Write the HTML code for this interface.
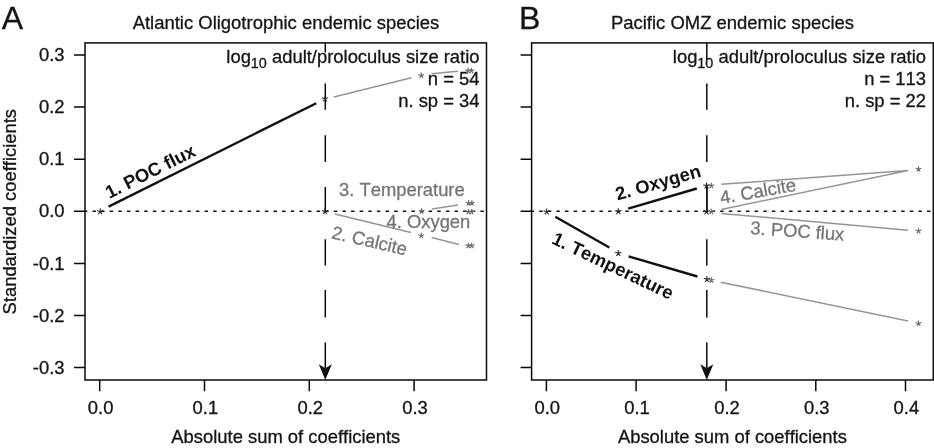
<!DOCTYPE html>
<html>
<head>
<meta charset="utf-8">
<title>Standardized coefficients</title>
<style>
html,body{margin:0;padding:0;background:#fff;}
body{width:934px;height:448px;overflow:hidden;}
svg{display:block;will-change:transform;}
text{font-family:"Liberation Sans",sans-serif;font-kerning:none;}
.t{font-size:18.4px;fill:#141414;stroke:#141414;stroke-width:0.3;}
.g{font-size:18.4px;fill:#757575;stroke:#757575;stroke-width:0.3;}
.b{font-size:18.4px;font-weight:bold;fill:#111;}
.s{text-anchor:middle;}
.ax{stroke:#0a0a0a;stroke-width:1.5;fill:none;}
.gl{stroke:#969696;stroke-width:1.55;fill:none;}
.bl{stroke:#111;stroke-width:2.4;fill:none;}
.dot{stroke:#141414;stroke-width:1.5;fill:none;stroke-dasharray:3.5 5.12;}
</style>
</head>
<body>
<svg width="934" height="448" viewBox="0 0 934 448">
<rect x="0" y="0" width="934" height="448" fill="#fff"/>
<g id="pA">
<text x="1.8" y="29.3" style="font-size:32px" fill="#141414" stroke="#141414" stroke-width="0.3">A</text>
<text class="t" x="286" y="29.3" text-anchor="middle" style="font-size:18.47px">Atlantic Oligotrophic endemic species</text>
<rect class="ax" x="85" y="42.9" width="401.5" height="337.1"/>
<path class="ax" d="M74 55.0H85M74 107.1H85M74 159.2H85M74 211.3H85M74 263.4H85M74 315.5H85M74 367.6H85"/>
<g class="t" text-anchor="end"><text x="64.5" y="61.1">0.3</text><text x="64.5" y="113.2">0.2</text><text x="64.5" y="165.3">0.1</text><text x="64.5" y="217.4">0.0</text><text x="64.5" y="269.5">-0.1</text><text x="64.5" y="321.6">-0.2</text><text x="64.5" y="373.7">-0.3</text></g>
<path class="ax" d="M99.7 380V391.2M204.5 380V391.2M309.3 380V391.2M414.1 380V391.2"/>
<g class="t" text-anchor="middle"><text x="100.60000000000001" y="413.5">0.0</text><text x="205.4" y="413.5">0.1</text><text x="310.2" y="413.5">0.2</text><text x="415.0" y="413.5">0.3</text><text x="285.8" y="443.3">Absolute sum of coefficients</text></g>
<text class="t" text-anchor="middle" transform="translate(16.4,211.7) rotate(-90)">Standardized coefficients</text>
<path class="dot" d="M83.84 211.2H486.5"/>
<path class="ax" d="M325.3 42.4V52.6M325.3 83.5V109.7M325.3 135.2V162M325.3 187V212.5M325.3 239.3V265.5M325.3 290V317.5M325.3 342.5V368"/><path d="M325.3 380L318.8 364.2L325.3 368.2L331.8 364.2Z" fill="#111"/>
<g class="t" text-anchor="end"><text x="479.5" y="62.8">log<tspan dy="5.6" style="font-size:14.4px">10</tspan><tspan dy="-5.6"> adult/proloculus size ratio</tspan></text><text x="479.5" y="84.7">n = 54</text><text x="479.5" y="106.7">n. sp = 34</text></g>
<path class="bl" d="M108.6 206.6L316.3 103.2"/>
<path class="gl" d="M333.8 96.9L411.3 77.8M431.4 73.7L458 71.2"/>
<path class="gl" d="M431.9 208.9L458 204.9"/>
<path class="gl" d="M334.8 213.9L411 232.4M431.6 237.6L459 244.4"/>
<text class="b" transform="translate(109.2,199.0) rotate(-26.6)">1. POC flux</text>
<text class="g" x="339" y="195.6">3. Temperature</text>
<text class="g" x="386.5" y="228.3">4. Oxygen</text>
<text class="g" transform="translate(330.8,238.2) rotate(13)">2. Calcite</text>
<g class="s">
<path d="M100.30 211.63L100.30 208.33M100.30 211.63L103.44 210.61M100.30 211.63L102.24 214.30M100.30 211.63L98.36 214.30M100.30 211.63L97.16 210.61" stroke="#222222" stroke-width="1.05" fill="none"/>
<path d="M325.00 98.83L325.00 95.53M325.00 98.83L328.14 97.81M325.00 98.83L326.94 101.50M325.00 98.83L323.06 101.50M325.00 98.83L321.86 97.81" stroke="#222222" stroke-width="1.05" fill="none"/>
<path d="M325.00 211.63L325.00 208.33M325.00 211.63L328.14 210.61M325.00 211.63L326.94 214.30M325.00 211.63L323.06 214.30M325.00 211.63L321.86 210.61" stroke="#222222" stroke-width="1.05" fill="none"/>
<path d="M421.30 75.50L421.30 72.55M421.30 75.50L424.11 74.58M421.30 75.50L423.03 77.88M421.30 75.50L419.57 77.88M421.30 75.50L418.49 74.58" stroke="#6a6a6a" stroke-width="1.15" fill="none"/>
<path d="M468.10 70.80L468.10 67.84M468.10 70.80L470.91 69.88M468.10 70.80L469.83 73.18M468.10 70.80L466.37 73.18M468.10 70.80L465.29 69.88" stroke="#6a6a6a" stroke-width="1.15" fill="none"/><path d="M471.50 70.80L471.50 67.84M471.50 70.80L474.31 69.88M471.50 70.80L473.23 73.18M471.50 70.80L469.77 73.18M471.50 70.80L468.69 69.88" stroke="#6a6a6a" stroke-width="1.15" fill="none"/>
<path d="M421.60 211.29L421.60 208.34M421.60 211.29L424.41 210.38M421.60 211.29L423.33 213.68M421.60 211.29L419.87 213.68M421.60 211.29L418.79 210.38" stroke="#6a6a6a" stroke-width="1.15" fill="none"/>
<path d="M468.50 203.09L468.50 200.15M468.50 203.09L471.31 202.18M468.50 203.09L470.23 205.48M468.50 203.09L466.77 205.48M468.50 203.09L465.69 202.18" stroke="#6a6a6a" stroke-width="1.15" fill="none"/><path d="M471.90 203.09L471.90 200.15M471.90 203.09L474.71 202.18M471.90 203.09L473.63 205.48M471.90 203.09L470.17 205.48M471.90 203.09L469.09 202.18" stroke="#6a6a6a" stroke-width="1.15" fill="none"/>
<path d="M468.30 211.89L468.30 208.94M468.30 211.89L471.11 210.98M468.30 211.89L470.03 214.28M468.30 211.89L466.57 214.28M468.30 211.89L465.49 210.98" stroke="#6a6a6a" stroke-width="1.15" fill="none"/><path d="M471.70 211.89L471.70 208.94M471.70 211.89L474.51 210.98M471.70 211.89L473.43 214.28M471.70 211.89L469.97 214.28M471.70 211.89L468.89 210.98" stroke="#6a6a6a" stroke-width="1.15" fill="none"/>
<path d="M421.30 235.69L421.30 232.75M421.30 235.69L424.11 234.78M421.30 235.69L423.03 238.08M421.30 235.69L419.57 238.08M421.30 235.69L418.49 234.78" stroke="#6a6a6a" stroke-width="1.15" fill="none"/>
<path d="M468.30 245.79L468.30 242.84M468.30 245.79L471.11 244.88M468.30 245.79L470.03 248.18M468.30 245.79L466.57 248.18M468.30 245.79L465.49 244.88" stroke="#6a6a6a" stroke-width="1.15" fill="none"/><path d="M471.70 245.79L471.70 242.84M471.70 245.79L474.51 244.88M471.70 245.79L473.43 248.18M471.70 245.79L469.97 248.18M471.70 245.79L468.89 244.88" stroke="#6a6a6a" stroke-width="1.15" fill="none"/>
</g>
</g>
<g id="pB">
<text x="519" y="29.3" style="font-size:32px" fill="#141414" stroke="#141414" stroke-width="0.3">B</text>
<text class="t" x="732.5" y="29.3" text-anchor="middle" style="font-size:18.47px">Pacific OMZ endemic species</text>
<rect class="ax" x="531.6" y="42.9" width="401.7" height="337.1"/>
<path class="ax" d="M520.6 55.0H531.6M520.6 107.1H531.6M520.6 159.2H531.6M520.6 211.3H531.6M520.6 263.4H531.6M520.6 315.5H531.6M520.6 367.6H531.6"/>
<path class="ax" d="M546.4 380V391.2M636.1 380V391.2M726.1 380V391.2M815.8 380V391.2M905.5 380V391.2"/>
<g class="t" text-anchor="middle"><text x="547.3" y="413.5">0.0</text><text x="637.0" y="413.5">0.1</text><text x="727.0" y="413.5">0.2</text><text x="816.6999999999999" y="413.5">0.3</text><text x="906.4" y="413.5">0.4</text><text x="732.4" y="443.3">Absolute sum of coefficients</text></g>
<path class="dot" d="M530.5 211.3H934"/>
<path class="ax" d="M706.8 42.4V60M706.8 83.5V109.7M706.8 135.2V162M706.8 187V212.5M706.8 239.3V265.5M706.8 290V317.5M706.8 342.5V368"/><path d="M706.8 380L700.3 364.2L706.8 368.2L713.3 364.2Z" fill="#111"/>
<g class="t" text-anchor="end"><text x="926" y="62.8">log<tspan dy="5.6" style="font-size:14.4px">10</tspan><tspan dy="-5.6"> adult/proloculus size ratio</tspan></text><text x="926" y="84.7">n = 113</text><text x="926" y="106.7">n. sp = 22</text></g>
<path class="bl" d="M628.2 208.7L696.8 188.5"/>
<path class="bl" d="M555.3 216.8L609.3 247.5M628.6 256.4L697.4 276.5"/>
<path d="M706.8 184.5V212.5" stroke="#111" stroke-width="1.6" fill="none"/>
<path class="gl" d="M721.3 184.3L908 170.6L721.3 209.4M721.3 213.4L908 230.2M720.8 282.2L908 321"/>
<text class="b" transform="translate(617.5,200.6) rotate(-16)">2. Oxygen</text>
<text class="b" transform="translate(550.7,243.1) rotate(25.5)">1. Temperature</text>
<text class="g" transform="translate(721.3,204) rotate(-10)">4. Calcite</text>
<text class="g" transform="translate(750,234) rotate(4.1)">3. POC flux</text>
<g class="s">
<path d="M546.70 211.73L546.70 208.43M546.70 211.73L549.84 210.71M546.70 211.73L548.64 214.40M546.70 211.73L544.76 214.40M546.70 211.73L543.56 210.71" stroke="#222222" stroke-width="1.05" fill="none"/>
<path d="M618.30 211.53L618.30 208.23M618.30 211.53L621.44 210.51M618.30 211.53L620.24 214.20M618.30 211.53L616.36 214.20M618.30 211.53L615.16 210.51" stroke="#222222" stroke-width="1.05" fill="none"/>
<path d="M618.30 253.33L618.30 250.03M618.30 253.33L621.44 252.31M618.30 253.33L620.24 256.00M618.30 253.33L616.36 256.00M618.30 253.33L615.16 252.31" stroke="#222222" stroke-width="1.05" fill="none"/>
<path d="M706.50 185.83L706.50 182.53M706.50 185.83L709.64 184.81M706.50 185.83L708.44 188.50M706.50 185.83L704.56 188.50M706.50 185.83L703.36 184.81" stroke="#222222" stroke-width="1.05" fill="none"/>
<path d="M711.30 185.79L711.30 182.84M711.30 185.79L714.11 184.88M711.30 185.79L713.03 188.18M711.30 185.79L709.57 188.18M711.30 185.79L708.49 184.88" stroke="#6a6a6a" stroke-width="1.15" fill="none"/>
<path d="M706.50 211.73L706.50 208.43M706.50 211.73L709.64 210.71M706.50 211.73L708.44 214.40M706.50 211.73L704.56 214.40M706.50 211.73L703.36 210.71" stroke="#222222" stroke-width="1.05" fill="none"/>
<path d="M711.30 211.69L711.30 208.75M711.30 211.69L714.11 210.78M711.30 211.69L713.03 214.08M711.30 211.69L709.57 214.08M711.30 211.69L708.49 210.78" stroke="#6a6a6a" stroke-width="1.15" fill="none"/>
<path d="M706.90 279.33L706.90 276.03M706.90 279.33L710.04 278.31M706.90 279.33L708.84 282.00M706.90 279.33L704.96 282.00M706.90 279.33L703.76 278.31" stroke="#222222" stroke-width="1.05" fill="none"/>
<path d="M711.40 280.19L711.40 277.25M711.40 280.19L714.21 279.28M711.40 280.19L713.13 282.58M711.40 280.19L709.67 282.58M711.40 280.19L708.59 279.28" stroke="#6a6a6a" stroke-width="1.15" fill="none"/>
<path d="M918.50 169.09L918.50 166.15M918.50 169.09L921.31 168.18M918.50 169.09L920.23 171.48M918.50 169.09L916.77 171.48M918.50 169.09L915.69 168.18" stroke="#6a6a6a" stroke-width="1.15" fill="none"/>
<path d="M918.50 230.99L918.50 228.04M918.50 230.99L921.31 230.08M918.50 230.99L920.23 233.38M918.50 230.99L916.77 233.38M918.50 230.99L915.69 230.08" stroke="#6a6a6a" stroke-width="1.15" fill="none"/>
<path d="M918.50 323.50L918.50 320.55M918.50 323.50L921.31 322.58M918.50 323.50L920.23 325.88M918.50 323.50L916.77 325.88M918.50 323.50L915.69 322.58" stroke="#6a6a6a" stroke-width="1.15" fill="none"/>
</g>
</g>
</svg>
</body>
</html>
